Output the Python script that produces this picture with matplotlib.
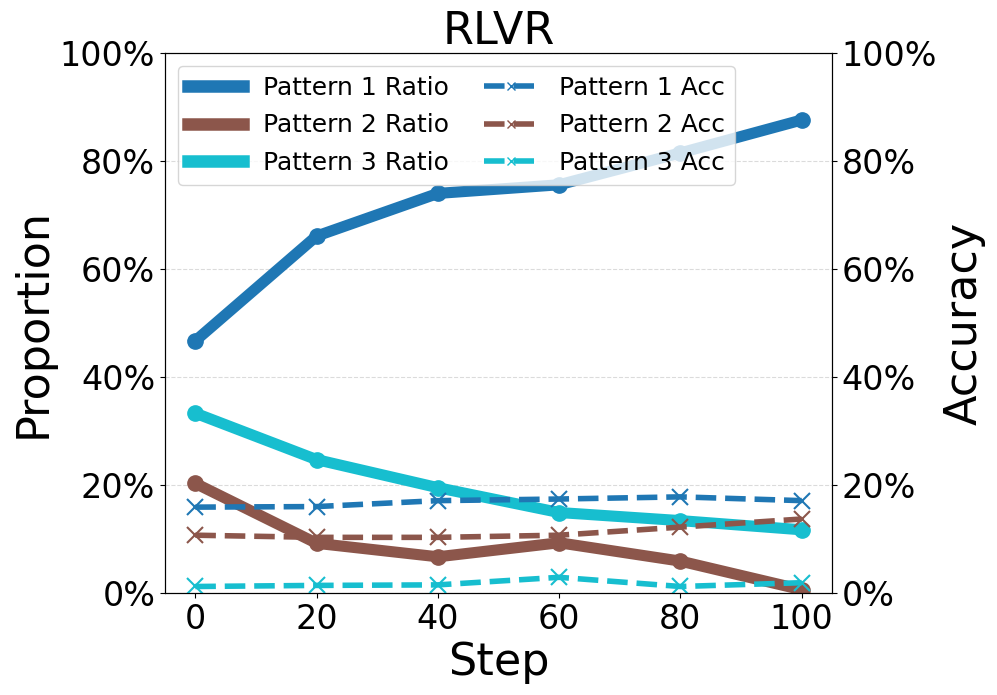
import matplotlib
matplotlib.use("Agg")
import matplotlib.pyplot as plt
from matplotlib.lines import Line2D
from matplotlib.ticker import PercentFormatter

steps = [0, 20, 40, 60, 80, 100]
# ratios (percent)
p1_ratio = [46.7, 66.1, 74.0, 75.6, 81.5, 87.6]
p2_ratio = [20.3, 9.2, 6.7, 9.3, 5.9, 0.6]
p3_ratio = [33.3, 24.7, 19.5, 14.9, 13.4, 11.7]
# accuracies (percent)
p1_acc = [15.9, 16.0, 17.1, 17.4, 17.8, 17.1]
p2_acc = [10.7, 10.3, 10.3, 10.7, 12.2, 13.7]
p3_acc = [1.2, 1.4, 1.5, 2.9, 1.2, 1.9]

colors = ["#1f77b4", "#8c564b", "#17becf"]
names = ["Pattern 1", "Pattern 2", "Pattern 3"]

fig = plt.figure(figsize=(9.97, 6.95), dpi=100)
ax1 = fig.add_subplot(111)
fig.subplots_adjust(left=0.1655, right=0.8345, top=0.9237, bottom=0.1468)
ax2 = ax1.twinx()

for r, c in zip([p1_ratio, p2_ratio, p3_ratio], colors):
    ax1.plot(steps, r, color=c, lw=8, marker="o", markersize=11)
for a, c in zip([p1_acc, p2_acc, p3_acc], colors):
    ax2.plot(steps, a, color=c, lw=4, ls="--", marker="x", markersize=12, markeredgewidth=1.5)

for ax in (ax1, ax2):
    ax.set_ylim(0, 100)
    ax.yaxis.set_major_formatter(PercentFormatter(100, decimals=0))
    ax.tick_params(labelsize=24)
ax1.set_xticks(steps)
ax1.grid(axis="y", ls="--", color="lightgray", alpha=0.8)
ax1.set_xlabel("Step", fontsize=32)
ax1.set_ylabel("Proportion", fontsize=32)
ax2.set_ylabel("Accuracy", fontsize=32)
ax1.set_title("RLVR", fontsize=32)

handles = [Line2D([], [], color=c, lw=9) for c in colors]
labels = [n + " Ratio" for n in names]
handles += [Line2D([], [], color=c, lw=4, ls="--", marker="x", markersize=6) for c in colors]
labels += [n + " Acc" for n in names]
ax2.legend(handles, labels, loc="upper left", ncol=2, fontsize=18,
           handlelength=2.2, columnspacing=1.4, labelspacing=0.55)

fig.savefig("out.png", dpi=100)
